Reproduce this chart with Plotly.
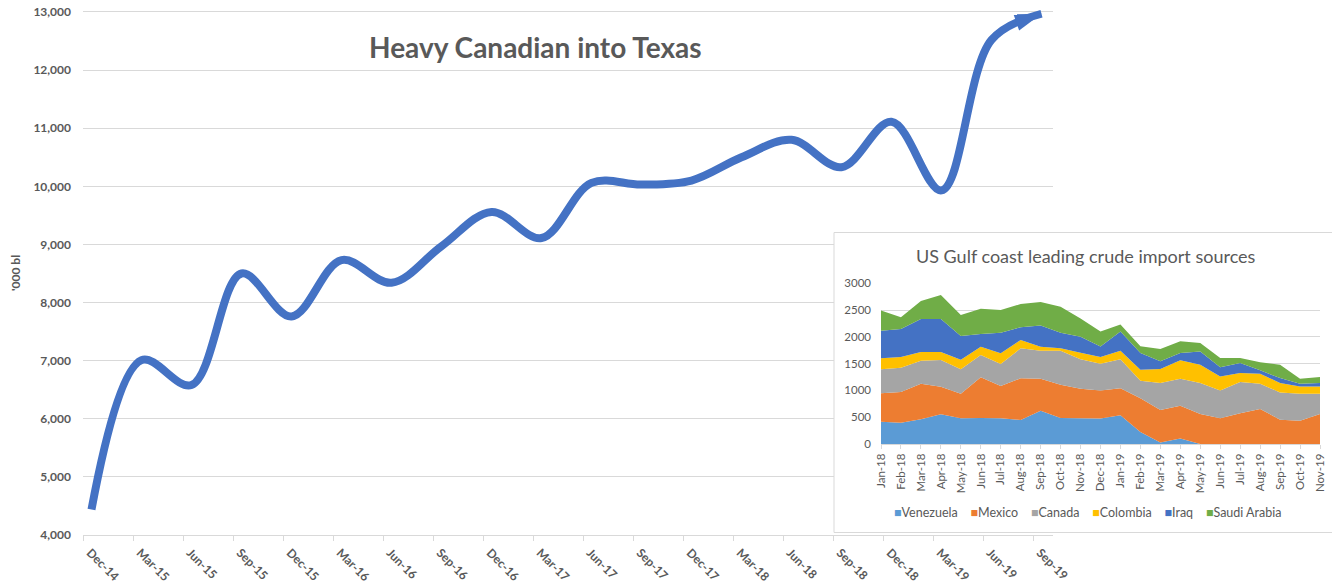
import plotly.graph_objects as go

W, H = 1332, 588

# ---------------- main chart data ----------------
quarters = ["Dec-14", "Mar-15", "Jun-15", "Sep-15", "Dec-15", "Mar-16", "Jun-16",
            "Sep-16", "Dec-16", "Mar-17", "Jun-17", "Sep-17", "Dec-17", "Mar-18",
            "Jun-18", "Sep-18", "Dec-18", "Mar-19", "Jun-19", "Sep-19"]
heavy_canadian = [4440, 7010, 6580, 8500, 7760, 8730, 8340, 8970, 9560, 9110,
                  10060, 10030, 10100, 10500, 10800, 10330, 11110, 9930, 12520, 12970]

# ---------------- inset data ----------------
months = ["Jan-18", "Feb-18", "Mar-18", "Apr-18", "May-18", "Jun-18", "Jul-18",
          "Aug-18", "Sep-18", "Oct-18", "Nov-18", "Dec-18", "Jan-19", "Feb-19",
          "Mar-19", "Apr-19", "May-19", "Jun-19", "Jul-19", "Aug-19", "Sep-19",
          "Oct-19", "Nov-19"]
venezuela = [417, 398, 460, 554, 479, 485, 479, 448, 622, 485, 481, 478, 537,
             225, 30, 103, 0, 0, 0, 0, 0, 0, 0]
mexico = [529, 573, 667, 516, 461, 760, 604, 778, 598, 623, 549, 523, 505,
          631, 606, 609, 562, 481, 575, 652, 455, 435, 560]
canada = [448, 454, 429, 498, 454, 417, 411, 560, 523, 635, 554, 496, 542,
          325, 501, 507, 575, 519, 581, 473, 507, 502, 377]
colombia = [206, 199, 162, 150, 181, 155, 199, 156, 74, 43, 118, 125, 156,
            206, 263, 343, 344, 262, 169, 187, 175, 138, 138]
iraq = [516, 523, 616, 616, 442, 237, 386, 236, 393, 293, 300, 199, 362,
        313, 144, 138, 244, 169, 187, 63, 94, 50, 62]
saudi_arabia = [374, 218, 336, 448, 392, 473, 423, 436, 441, 485, 339, 281, 130,
                125, 231, 219, 162, 175, 94, 150, 250, 94, 113]

series_names = ["Venezuela", "Mexico", "Canada", "Colombia", "Iraq", "Saudi Arabia"]
series_values = [venezuela, mexico, canada, colombia, iraq, saudi_arabia]
series_colors = ["#5B9BD5", "#ED7D31", "#A5A5A5", "#FFC000", "#4472C4", "#70AD47"]


def px(x):
    return x / W


def py(y):
    return 1 - y / H


FONT = "Lato"
GREY = "#595959"
GRID = "#D9D9D9"
LINE_BLUE = "#4472C4"

# main value axis: 4,000 at y=535px, 13,000 at y=12px; small headroom above
Y_MIN, Y_MAX, Y_PAD = 4000, 13000, 40
PX_PER_UNIT = (535 - 12) / (Y_MAX - Y_MIN)

fig = go.Figure()

# main line
n = len(quarters)
xs = list(range(n))
fig.add_trace(go.Scatter(
    x=xs, y=heavy_canadian, mode="lines",
    line=dict(color=LINE_BLUE, width=8, shape="spline", smoothing=1.0),
    showlegend=False, hoverinfo="skip",
    xaxis="x", yaxis="y"))

# arrow head at the end of the line
fig.add_trace(go.Scatter(
    x=xs[-1:], y=heavy_canadian[-1:], mode="markers",
    marker=dict(symbol="arrow", angle=71, size=28, color=LINE_BLUE,
                line=dict(width=0)),
    showlegend=False, hoverinfo="skip",
    xaxis="x", yaxis="y"))

# dummy subplot to mask the main chart behind the inset box
fig.add_trace(go.Scatter(x=[None], y=[None], xaxis="x2", yaxis="y2",
                         showlegend=False, hoverinfo="skip"))

# inset stacked areas
for name, vals, col in zip(series_names, series_values, series_colors):
    fig.add_trace(go.Scatter(
        x=months, y=vals, name=name, stackgroup="one", mode="none",
        fillcolor=col, line=dict(width=0), showlegend=False,
        xaxis="x3", yaxis="y3"))

tick_offset = 0.17
fig.update_layout(
    width=W, height=H,
    margin=dict(l=0, r=0, t=0, b=0),
    paper_bgcolor="white", plot_bgcolor="white",
    showlegend=False,
    font=dict(family=FONT, color=GREY),
    xaxis=dict(
        domain=[px(83), px(1053)],
        range=[-0.17, -0.17 + 970 / 50],
        tickmode="array",
        tickvals=[i - tick_offset for i in xs],
        ticktext=quarters,
        tickangle=45, ticklabelshift=7,
        ticks="outside", ticklen=5, tickcolor=GRID,
        showline=True, linecolor=GRID, linewidth=1,
        showgrid=False, zeroline=False,
        tickfont=dict(family=FONT, size=12, color=GREY, weight="bold"),
        anchor="y", automargin=False),
    yaxis=dict(
        domain=[py(535), py(12 - Y_PAD * PX_PER_UNIT)],
        range=[Y_MIN, Y_MAX + Y_PAD], tickmode="linear", tick0=Y_MIN, dtick=1000,
        tickformat=",", ticklabeloverflow="allow",
        showgrid=True, gridcolor=GRID, gridwidth=1,
        zeroline=False, showline=False, ticks="", ticklabelstandoff=11,
        tickfont=dict(family=FONT, size=12, color=GREY, weight="bold"),
        anchor="x", automargin=False),
    xaxis2=dict(domain=[px(834), 1], visible=False, anchor="y2",
                range=[0, 1]),
    yaxis2=dict(domain=[py(532.5), py(232.5)], visible=False, anchor="x2",
                range=[0, 1]),
    xaxis3=dict(
        domain=[px(881), px(1320)], anchor="y3",
        type="category", range=[0, len(months) - 1],
        tickangle=-90, ticks="outside", ticklen=4, tickcolor=GRID,
        showline=True, linecolor=GRID, showgrid=False,
        tickfont=dict(family=FONT, size=11.5, color=GREY),
        automargin=False),
    yaxis3=dict(
        domain=[py(444), py(283.3)], anchor="x3",
        range=[0, 3000], dtick=500, showgrid=True, gridcolor=GRID,
        zeroline=False, showline=False, ticks="", ticklabelstandoff=9,
        tickfont=dict(family=FONT, size=11.5, color=GREY),
        automargin=False),
)

legend_text = "&nbsp;&nbsp;&nbsp;&nbsp;".join(
    f"<span style='color:{c}'>■</span>{nm}" for nm, c in zip(series_names, series_colors))

fig.update_layout(
    shapes=[dict(type="rect", xref="paper", yref="paper",
                 x0=px(834), x1=1.01, y0=py(532.5), y1=py(232.5),
                 line=dict(color=GRID, width=1), fillcolor="rgba(0,0,0,0)",
                 layer="above")],
    annotations=[
        dict(text="Heavy Canadian into Texas", xref="paper", yref="paper",
             x=px(535), y=py(47), showarrow=False, xanchor="center", yanchor="middle",
             font=dict(family=FONT, size=28, color=GREY, weight="bold")),
        dict(text="'000 bl", xref="paper", yref="paper", x=px(15), y=py(273),
             textangle=-90, showarrow=False, xanchor="center", yanchor="middle",
             font=dict(family=FONT, size=12, color=GREY, weight="bold")),
        dict(text="US Gulf coast leading crude import sources", xref="paper", yref="paper",
             x=px(1085.5), y=py(256), showarrow=False, xanchor="center", yanchor="middle",
             font=dict(family=FONT, size=18, color=GREY)),
        dict(text=legend_text, xref="paper", yref="paper",
             x=px(1087), y=py(512), showarrow=False, xanchor="center", yanchor="middle",
             font=dict(family=FONT, size=12.5, color=GREY)),
    ],
)

# remove the browser's default 8px body margin so the figure fills the window
fig.write_html("out.html", config={"displayModeBar": False},
               post_script="document.body.style.margin='0px';")
